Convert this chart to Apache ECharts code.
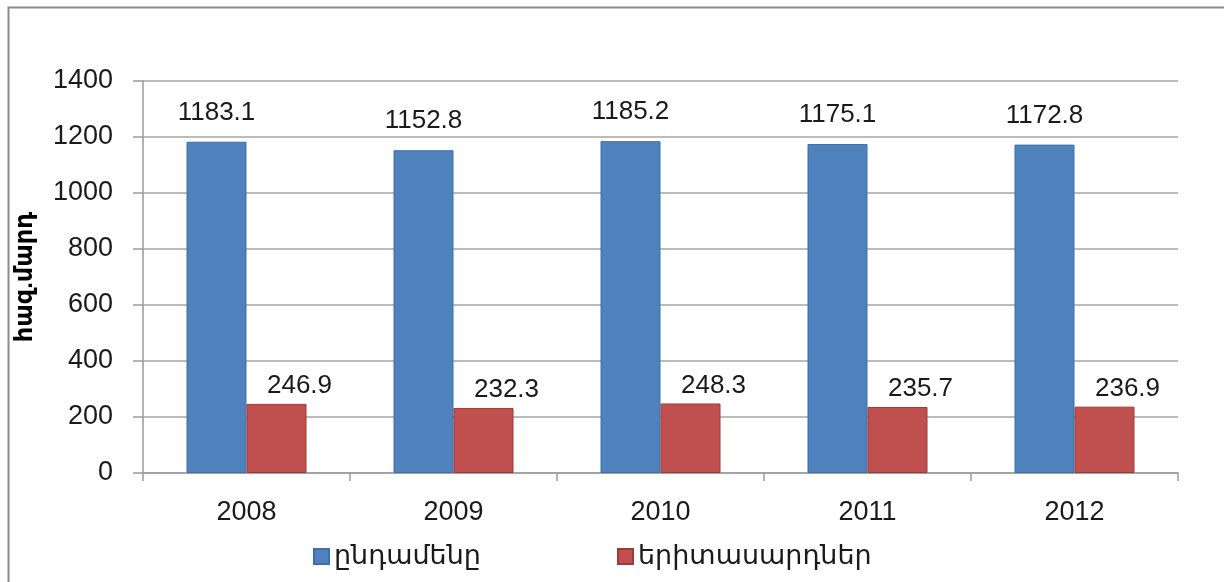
<!DOCTYPE html>
<html>
<head>
<meta charset="utf-8">
<script src="https://cdn.jsdelivr.net/npm/echarts@6/dist/echarts.min.js"></script>
<style>html,body{margin:0;padding:0;background:#fff}#c{width:1224px;height:582px}</style>
</head>
<body>
<div id="c"></div>
<script>
const categories = ['2008', '2009', '2010', '2011', '2012'];
const totalValues = [1183.1, 1152.8, 1185.2, 1175.1, 1172.8];
const youthValues = [246.9, 232.3, 248.3, 235.7, 236.9];
const seriesNames = ['ընդամենը', 'երիտասարդներ'];
const yAxisName = 'հազ.մարդ';

const FONT = 'Liberation Sans, DejaVu Sans, sans-serif';
const chart = echarts.init(document.getElementById('c'), null, {renderer: 'canvas'});
chart.setOption({
  animation: false,
  backgroundColor: '#fff',
  graphic: [{
    type: 'rect', left: 6, top: 5, silent: true,
    shape: {width: 1240, height: 620},
    style: {fill: 'none', stroke: '#8c8c8c', lineWidth: 2}
  }],
  grid: {left: 143, right: 46, top: 81, bottom: 109},
  legend: [
    {data: [seriesNames[0]], left: 308, top: 538, itemWidth: 15, itemHeight: 15, itemGap: 4,
     textStyle: {fontFamily: FONT, fontSize: 27, color: '#1a1a1a'}, icon: 'rect'},
    {data: [seriesNames[1]], left: 612, top: 538, itemWidth: 15, itemHeight: 15, itemGap: 4,
     textStyle: {fontFamily: FONT, fontSize: 27, color: '#1a1a1a'}, icon: 'rect'}
  ],
  xAxis: {
    type: 'category', data: categories,
    axisLine: {lineStyle: {color: '#9a9a9a', width: 1.5}},
    axisTick: {show: true, length: 8, lineStyle: {color: '#9a9a9a', width: 1.5}},
    axisLabel: {fontFamily: FONT, fontSize: 27, color: '#1a1a1a', margin: 26}
  },
  yAxis: {
    type: 'value', min: 0, max: 1400, interval: 200,
    name: yAxisName, nameLocation: 'middle', nameGap: 106, nameRotate: 90,
    nameTextStyle: {fontFamily: FONT, fontSize: 24, fontWeight: 'bold', color: '#000'},
    axisLine: {show: true, lineStyle: {color: '#9a9a9a', width: 1.5}},
    axisTick: {show: true, length: 10, lineStyle: {color: '#9a9a9a', width: 1.5}},
    splitLine: {lineStyle: {color: '#a6a6a6', width: 1.5}},
    axisLabel: {fontFamily: FONT, fontSize: 27, color: '#1a1a1a', margin: 30,
      formatter: function (v) { return String(v); }}
  },
  series: [
    {
      name: seriesNames[0], type: 'bar', data: totalValues,
      barWidth: 60, barGap: '0%',
      itemStyle: {color: '#4F81BD', borderColor: '#3F6FA8', borderWidth: 1},
      label: {show: true, position: 'top', distance: 16, fontFamily: FONT, fontSize: 26, color: '#1a1a1a'}
    },
    {
      name: seriesNames[1], type: 'bar', data: youthValues,
      barWidth: 60, barGap: '0%',
      itemStyle: {color: '#C0504D', borderColor: '#9E3B38', borderWidth: 1},
      label: {show: true, position: 'top', distance: 5, offset: [23, 0], fontFamily: FONT, fontSize: 26, color: '#1a1a1a'}
    }
  ]
});
</script>
</body>
</html>
